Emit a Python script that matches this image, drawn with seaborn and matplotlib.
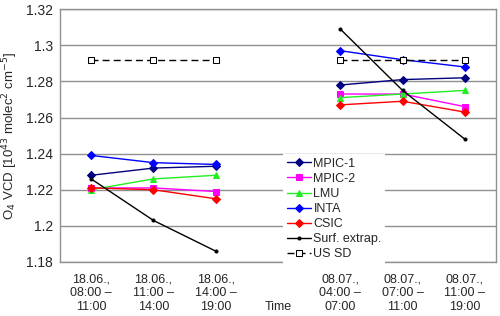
import numpy as np
import matplotlib
matplotlib.use("Agg")
import matplotlib.pyplot as plt
import seaborn as sns

# category labels on the x axis (4th slot is the axis title "Time")
tick_labels = ["18.06.,\n08:00 –\n11:00", "18.06.,\n11:00 –\n14:00", "18.06.,\n14:00 –\n19:00",
               "\n\nTime",
               "08.07.,\n04:00 –\n07:00", "08.07.,\n07:00 –\n11:00", "08.07.,\n11:00 –\n19:00"]
day1_pos = [0, 1, 2]
day2_pos = [4, 5, 6]

series = ["MPIC-1", "MPIC-2", "LMU", "INTA", "CSIC", "Surf. extrap.", "US SD"]

# O4 VCD values, first day (18.06.) and second day (08.07.)
mpic1 = [1.228, 1.232, 1.233, 1.278, 1.281, 1.282]
mpic2 = [1.221, 1.221, 1.219, 1.273, 1.273, 1.266]
lmu = [1.220, 1.226, 1.228, 1.271, 1.273, 1.275]
inta = [1.239, 1.235, 1.234, 1.297, 1.292, 1.288]
csic = [1.221, 1.220, 1.215, 1.267, 1.269, 1.263]
surf = [1.226, 1.203, 1.186, 1.309, 1.275, 1.248]
ussd = [1.292, 1.292, 1.292, 1.292, 1.292, 1.292]

values = [mpic1, mpic2, lmu, inta, csic, surf, ussd]

styles = {
    "MPIC-1": dict(color="#000080", marker="D", markersize=4, linestyle="-"),
    "MPIC-2": dict(color="#FF00FF", marker="s", markersize=5, linestyle="-"),
    "LMU": dict(color="#22EE22", marker="^", markersize=5, linestyle="-"),
    "INTA": dict(color="#0000FF", marker="D", markersize=4, linestyle="-"),
    "CSIC": dict(color="#FF0000", marker="D", markersize=4, linestyle="-"),
    "Surf. extrap.": dict(color="black", marker="o", markersize=2.2, linestyle="-"),
    "US SD": dict(color="black", marker="s", markersize=5, linestyle=(0, (5, 3)),
                  markerfacecolor="white", markeredgecolor="black"),
}

sns.set_style("white")
plt.rcParams["font.family"] = ["Liberation Sans", "DejaVu Sans"]

fig = plt.figure(figsize=(5, 3.16), dpi=100)
ax = fig.add_axes([0.12, 0.171, 0.872, 0.8])

for name, vals in zip(series, values):
    st = dict(styles[name])
    if "markeredgecolor" not in st:
        st["markeredgecolor"] = st["color"]
    sns.lineplot(x=day1_pos, y=vals[:3], ax=ax, linewidth=1.0, label=name, **st)
    sns.lineplot(x=day2_pos, y=vals[3:], ax=ax, linewidth=1.0, **st)

ax.set_xlim(-0.5, 6.5)
ax.set_ylim(1.18, 1.32)
ax.set_yticks([1.18, 1.2, 1.22, 1.24, 1.26, 1.28, 1.3, 1.32])
ax.set_yticklabels(["1.18", "1.2", "1.22", "1.24", "1.26", "1.28", "1.3", "1.32"], fontsize=10)
ax.set_xticks(range(7))
ax.set_xticklabels(tick_labels, fontsize=9, linespacing=1.2)
ax.set_xticks(np.arange(-0.5, 7, 1), minor=True)
ax.tick_params(axis="x", which="major", length=0, pad=8)
ax.tick_params(axis="x", which="minor", length=4, color="#808080", direction="out")
ax.tick_params(axis="y", length=3, color="#808080", direction="out", pad=2)
ax.grid(axis="y", color="#909090", linewidth=1.0)
ax.set_axisbelow(True)
for sp in ax.spines.values():
    sp.set_color("#909090")
    sp.set_linewidth(1.0)

ax.set_xlabel("")
ax.set_ylabel("O$_4$ VCD [10$^{43}$ molec$^2$ cm$^{-5}$]", fontsize=9.5, labelpad=4)

leg = ax.legend(loc="upper left", bbox_to_anchor=(0.498, 0.452), fontsize=9,
                frameon=True, framealpha=1, facecolor="white", edgecolor="none",
                fancybox=False, handlelength=1.9, handletextpad=0.2,
                labelspacing=0.25, borderpad=0.3)

fig.savefig("out.png", dpi=100)
